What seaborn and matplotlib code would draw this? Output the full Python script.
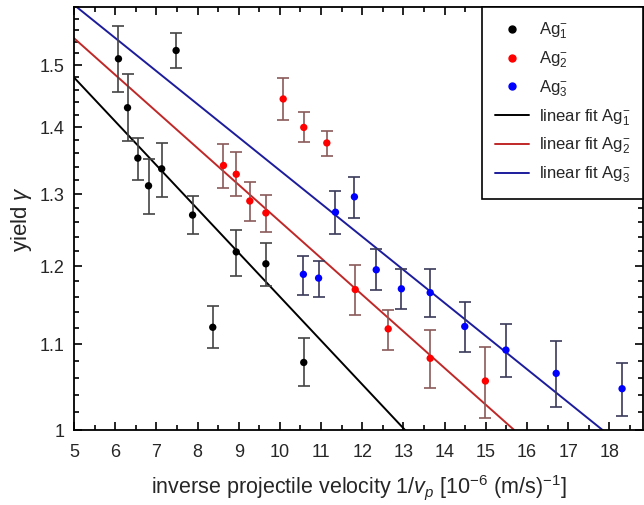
import numpy as np
import pandas as pd
import seaborn as sns
import matplotlib.pyplot as plt
from matplotlib.ticker import FixedLocator, FixedFormatter, NullFormatter
from matplotlib.lines import Line2D

sns.set_style("ticks")
plt.rcParams['font.family'] = ['Liberation Sans', 'DejaVu Sans']
plt.rcParams['mathtext.fontset'] = 'custom'
plt.rcParams['mathtext.rm'] = 'Liberation Sans'
plt.rcParams['mathtext.it'] = 'Liberation Sans:italic'
plt.rcParams['mathtext.bf'] = 'Liberation Sans:bold'

# --- data ---
# Ag1-
x1 = [6.08, 6.30, 6.55, 6.81, 7.13, 7.48, 7.88, 8.37, 8.94, 9.66, 10.58]
y1 = [1.511, 1.431, 1.353, 1.312, 1.337, 1.525, 1.270, 1.121, 1.219, 1.203, 1.078]
lo1 = [1.456, 1.379, 1.320, 1.271, 1.296, 1.496, 1.243, 1.095, 1.187, 1.174, 1.050]
hi1 = [1.567, 1.485, 1.383, 1.351, 1.376, 1.555, 1.297, 1.148, 1.249, 1.231, 1.108]
# Ag2-
x2 = [8.63, 8.94, 9.27, 9.66, 10.08, 10.58, 11.14, 11.83, 12.63, 13.65, 14.99]
y2 = [1.342, 1.329, 1.290, 1.273, 1.445, 1.400, 1.376, 1.169, 1.119, 1.083, 1.056]
lo2 = [1.309, 1.297, 1.261, 1.246, 1.411, 1.377, 1.356, 1.136, 1.093, 1.048, 1.013]
hi2 = [1.374, 1.362, 1.318, 1.299, 1.479, 1.424, 1.394, 1.202, 1.143, 1.118, 1.097]
# Ag3-
x3 = [10.57, 10.94, 11.35, 11.81, 12.34, 12.95, 13.65, 14.49, 15.49, 16.71, 18.31]
y3 = [1.189, 1.184, 1.274, 1.296, 1.195, 1.170, 1.165, 1.122, 1.093, 1.065, 1.047]
lo3 = [1.162, 1.160, 1.244, 1.266, 1.169, 1.144, 1.134, 1.091, 1.061, 1.026, 1.016]
hi3 = [1.214, 1.207, 1.304, 1.325, 1.223, 1.196, 1.196, 1.153, 1.125, 1.104, 1.077]

# linear fits: ln(gamma) = a + b * x
fit_a = [0.6358, 0.6395, 0.6569]
fit_b = [-0.04876, -0.04076, -0.03683]

series_names = ['Ag$_1^{-}$', 'Ag$_2^{-}$', 'Ag$_3^{-}$']
point_colors = ['#000000', '#ff0000', '#0000ff']
err_colors = ['#444444', '#8a5a5a', '#3a3a5a']
line_colors = ['#000000', '#c02828', '#1c1c9c']

y_ticks = [1.0, 1.1, 1.2, 1.3, 1.4, 1.5]
y_tick_labels = ['1', '1.1', '1.2', '1.3', '1.4', '1.5']

xs = [x1, x2, x3]
ys = [y1, y2, y3]
los = [lo1, lo2, lo3]
his = [hi1, hi2, hi3]

# --- plot ---
fig = plt.figure(figsize=(6.44, 5.05), dpi=100)
ax = fig.add_axes([0.1149, 0.1485, 0.8843, 0.837])

xmin, xmax = 5, 18.83
xfit = np.linspace(xmin, xmax, 200)

for i in range(3):
    d = pd.DataFrame({'x': xfit, 'y': np.exp(fit_a[i] + fit_b[i] * xfit)})
    sns.lineplot(data=d, x='x', y='y', ax=ax, color=line_colors[i], linewidth=1.4, zorder=2)

for i in range(3):
    y = np.array(ys[i])
    yerr = [y - np.array(los[i]), np.array(his[i]) - y]
    ax.errorbar(xs[i], y, yerr=yerr, fmt='none', ecolor=err_colors[i],
                elinewidth=1.2, capsize=4.5, capthick=1.2, zorder=3)
    d = pd.DataFrame({'x': xs[i], 'y': ys[i]})
    sns.scatterplot(data=d, x='x', y='y', ax=ax, color=point_colors[i], s=28,
                    edgecolor='none', zorder=4)

ax.set_yscale('log')
ax.set_xlim(xmin, xmax)
ax.set_ylim(1.0, 1.6)

ax.xaxis.set_major_locator(FixedLocator(np.arange(5, 19, 1)))
ax.xaxis.set_minor_locator(FixedLocator(np.arange(5, 19, 0.5)))
ax.yaxis.set_major_locator(FixedLocator(y_ticks))
ax.yaxis.set_major_formatter(FixedFormatter(y_tick_labels))
ax.yaxis.set_minor_locator(FixedLocator(np.arange(1.0, 1.601, 0.02)))
ax.yaxis.set_minor_formatter(NullFormatter())

ax.tick_params(which='both', direction='in', top=True, right=True, color='black', width=1.2)
ax.tick_params(which='major', length=6, labelsize=13)
ax.tick_params(axis='x', which='major', pad=10)
ax.tick_params(axis='y', which='major', pad=7)
ax.tick_params(which='minor', length=3.5)
for s in ax.spines.values():
    s.set_linewidth(1.3)
    s.set_color('black')

ax.set_xlabel('inverse projectile velocity 1/$v_p$ [10$^{-6}$ (m/s)$^{-1}$]', fontsize=15.5, labelpad=9)
ax.set_ylabel('yield $\\gamma$', fontsize=16, labelpad=4)

handles = []
for i in range(3):
    handles.append(Line2D([], [], linestyle='none', marker='o', markersize=5,
                          color=point_colors[i], label=series_names[i]))
for i in range(3):
    handles.append(Line2D([], [], color=line_colors[i], linewidth=1.4,
                          label='linear fit ' + series_names[i]))
leg = ax.legend(handles=handles, loc='upper right', fontsize=12, frameon=True,
                fancybox=False, edgecolor='black', framealpha=1, borderaxespad=0,
                handlelength=2.0, handletextpad=0.6, labelspacing=0.5, borderpad=0.8)
leg.get_frame().set_linewidth(1.2)

fig.savefig('out.png', dpi=100)
